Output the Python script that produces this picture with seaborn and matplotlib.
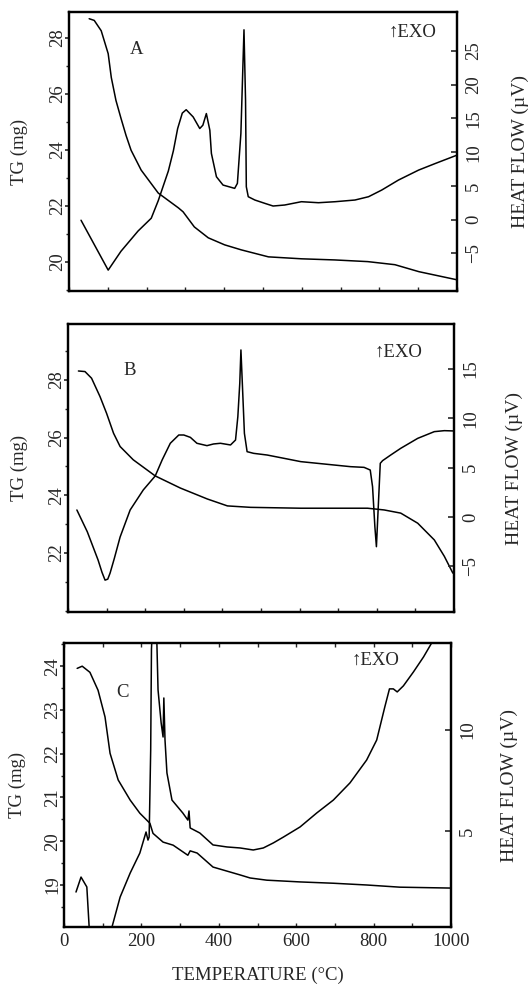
import numpy as np
import pandas as pd
import matplotlib
matplotlib.use('Agg')
import matplotlib.pyplot as plt
from matplotlib.ticker import MultipleLocator, FixedLocator
import seaborn as sns

# ---------------- data (temperature in deg C) ----------------
# Panel A
a_tg_t = [52, 65, 83, 101, 109, 121, 134, 147, 160, 186, 230, 282, 294, 323, 359, 401, 444,
          514, 600, 685, 770, 840, 902, 1000]
a_tg = [28.68, 28.62, 28.25, 27.43, 26.58, 25.76, 25.12, 24.51, 23.98, 23.27, 22.45, 21.92,
        21.78, 21.24, 20.85, 20.60, 20.42, 20.17, 20.10, 20.06, 20.00, 19.89, 19.64, 19.35]
a_hf_t = [31, 101, 134, 178, 212, 230, 256, 269, 280, 292, 302, 320, 337, 345, 354, 363, 367,
          380, 397, 427, 434, 443, 451, 455, 457, 462, 479, 505, 526, 556, 599, 643, 686, 737,
          772, 806, 849, 901, 944, 1000]
a_hf = [-0.1, -7.5, -4.7, -1.7, 0.2, 2.8, 7.2, 10.2, 13.5, 15.8, 16.3, 15.23, 13.51, 14.00,
        15.73, 13.26, 9.81, 6.35, 5.12, 4.63, 5.37, 12.77, 28.16, 17.70, 4.87, 3.39, 2.90, 2.40,
        2.01, 2.16, 2.65, 2.50, 2.65, 2.90, 3.39, 4.38, 5.86, 7.34, 8.32, 9.56]

# Panel B
b_tg_t = [27, 44, 61, 83, 100, 118, 135, 169, 226, 291, 361, 413, 473, 603, 689, 776, 819,
          862, 906, 949, 975, 997]
b_tg = [28.31, 28.29, 28.06, 27.42, 26.84, 26.15, 25.69, 25.23, 24.67, 24.25, 23.87, 23.63,
        23.58, 23.55, 23.55, 23.55, 23.49, 23.38, 23.03, 22.45, 21.88, 21.30]
b_hf_t = [23, 50, 70, 78, 88, 96, 103, 109, 120, 135, 161, 195, 226, 244, 265, 287, 300, 317,
          334, 360, 377, 395, 421, 434, 440, 445, 448, 452, 457, 464, 481, 516, 559, 603, 646,
          689, 732, 767, 783, 789, 795, 799, 803, 809, 815, 836, 862, 906, 949, 975, 999]
b_hf = [0.71, -1.5, -3.55, -4.37, -5.6, -6.40, -6.3, -5.69, -4.2, -2.03, 0.71, 2.74, 4.16,
        5.79, 7.47, 8.31, 8.31, 8.07, 7.47, 7.23, 7.40, 7.47, 7.30, 7.80, 10.17, 13.55, 16.93,
        13.21, 8.48, 6.62, 6.45, 6.28, 5.95, 5.61, 5.44, 5.27, 5.10, 5.03, 4.76, 3.07, -0.98,
        -3.01, 0.37, 5.44, 5.71, 6.28, 6.96, 7.97, 8.65, 8.75, 8.72]

# Panel C
c_tg_t = [34, 47, 67, 88, 106, 119, 140, 171, 196, 222, 230, 256, 282, 320, 326, 344, 385,
          455, 481, 524, 610, 696, 782, 868, 997]
c_tg = [23.95, 24.00, 23.86, 23.45, 22.84, 22.01, 21.40, 20.94, 20.64, 20.41, 20.18, 19.98,
        19.91, 19.68, 19.78, 19.73, 19.41, 19.23, 19.16, 19.11, 19.07, 19.04, 19.00, 18.95,
        18.93]
c_hf_t = [31, 44, 59, 65, 68, 121, 124, 145, 171, 196, 212, 217, 220, 224, 226, 232, 238, 240,
          243, 251, 256, 258, 261, 266, 279, 307, 320, 323, 326, 351, 385, 421, 455, 489, 515,
          541, 567, 610, 653, 696, 739, 782, 808, 829, 841, 851, 861, 877, 903, 929, 950, 972]
c_hf = [1.98, 2.72, 2.23, 0.25, -1.0, -1.0, 0.25, 1.73, 2.92, 3.91, 4.95, 4.55, 4.7, 9.0, 14.0,
        16.5, 16.5, 14.3, 11.98, 10.35, 9.65, 11.58, 9.50, 7.87, 6.53, 5.89, 5.54, 5.99, 5.15,
        4.90, 4.31, 4.21, 4.16, 4.06, 4.16, 4.41, 4.70, 5.20, 5.89, 6.53, 7.38, 8.51, 9.50,
        11.14, 12.03, 12.03, 11.88, 12.18, 12.87, 13.61, 14.3, 15.2]

panel_letters = ["A", "B", "C"]
tg_ticks = [[20, 22, 24, 26, 28], [22, 24, 26, 28], [19, 20, 21, 22, 23, 24]]
hf_ticks = [[-5, 0, 5, 10, 15, 20, 25], [-5, 0, 5, 10, 15], [5, 10]]
x_ticks = [0, 200, 400, 600, 800, 1000]

# ---------------- style ----------------
sns.set_theme(style="ticks")
plt.rcParams['font.family'] = ['Liberation Serif', 'DejaVu Serif']
plt.rcParams['axes.linewidth'] = 1.6

fig = plt.figure(figsize=(5.31, 9.88), dpi=100)

W, H = 531.0, 988.0
boxes = [(69, 457, 12, 291), (68, 454, 324, 612), (64, 451, 643, 927)]
tg_lims = [(18.95, 28.92), (19.95, 29.94), (18.04, 24.53)]
hf_lims = [(-10.6, 30.8), (-9.63, 19.56), (0.25, 14.3)]
letter_pos = [(0.173, 0.864), (0.161, 0.840), (0.152, 0.824)]
exo_pos = [(0.884, 0.928), (0.855, 0.903), (0.804, 0.940)]
tg_lab_x = [-0.106, -0.104, -0.098]
hf_lab_x = [1.14, 1.135, 1.129]

data = [
    (a_tg_t, a_tg, a_hf_t, a_hf),
    (b_tg_t, b_tg, b_hf_t, b_hf),
    (c_tg_t, c_tg, c_hf_t, c_hf),
]

FS = 13.5
for i, (l, r, t, b) in enumerate(boxes):
    ax = fig.add_axes([l / W, 1 - b / H, (r - l) / W, (b - t) / H])
    ax2 = ax.twinx()
    tg_t, tg, hf_t, hf = data[i]
    df_tg = pd.DataFrame({"T": tg_t, "TG": tg})
    df_hf = pd.DataFrame({"T": hf_t, "HF": hf})
    sns.lineplot(data=df_tg, x="T", y="TG", ax=ax, color="black", lw=1.1,
                 sort=False, estimator=None)
    sns.lineplot(data=df_hf, x="T", y="HF", ax=ax2, color="black", lw=1.1,
                 sort=False, estimator=None)
    ax.set_xlim(0, 1000)
    ax.set_ylim(*tg_lims[i])
    ax2.set_ylim(*hf_lims[i])

    ax.yaxis.set_major_locator(FixedLocator(tg_ticks[i]))
    step = 1 if i < 2 else 0.5
    ax.yaxis.set_minor_locator(MultipleLocator(step))
    ax2.yaxis.set_major_locator(FixedLocator(hf_ticks[i]))
    ax.xaxis.set_major_locator(FixedLocator(x_ticks))
    ax.xaxis.set_minor_locator(MultipleLocator(100))

    ax.tick_params(axis='y', which='major', direction='out', length=3, width=1.2,
                   labelsize=FS, labelrotation=90, pad=-1)
    ax.tick_params(axis='y', which='minor', direction='out', length=2, width=1.0)
    ax2.tick_params(axis='y', which='major', direction='in', length=4, width=1.2,
                    labelsize=FS, labelrotation=90, pad=6)
    ax.tick_params(axis='x', which='both', direction='in', length=3, width=1.0,
                   labelsize=FS, top=(i == 2), pad=4)
    for lab in ax.get_yticklabels():
        lab.set_va('center')
    for lab in ax2.get_yticklabels():
        lab.set_va('center')

    if i < 2:
        ax.tick_params(axis='x', labelbottom=False)
        ax.set_xlabel("")
    else:
        ax.set_xlabel("TEMPERATURE (°C)", fontsize=FS, labelpad=12)

    ax.set_ylabel("TG (mg)", fontsize=FS)
    ax.yaxis.set_label_coords(tg_lab_x[i], 0.5)
    ax2.set_ylabel("HEAT FLOW (µV)", fontsize=14, rotation=90)
    ax2.yaxis.set_label_coords(hf_lab_x[i], 0.5)

    for sp in list(ax.spines.values()) + list(ax2.spines.values()):
        sp.set_visible(True)
        sp.set_linewidth(1.6)
        sp.set_color("black")

    ax.text(*letter_pos[i], panel_letters[i], transform=ax.transAxes, fontsize=FS,
            ha='center', va='center')
    ax.text(*exo_pos[i], "↑EXO", transform=ax.transAxes, fontsize=FS,
            ha='center', va='center')

fig.savefig("out.png", dpi=100)
